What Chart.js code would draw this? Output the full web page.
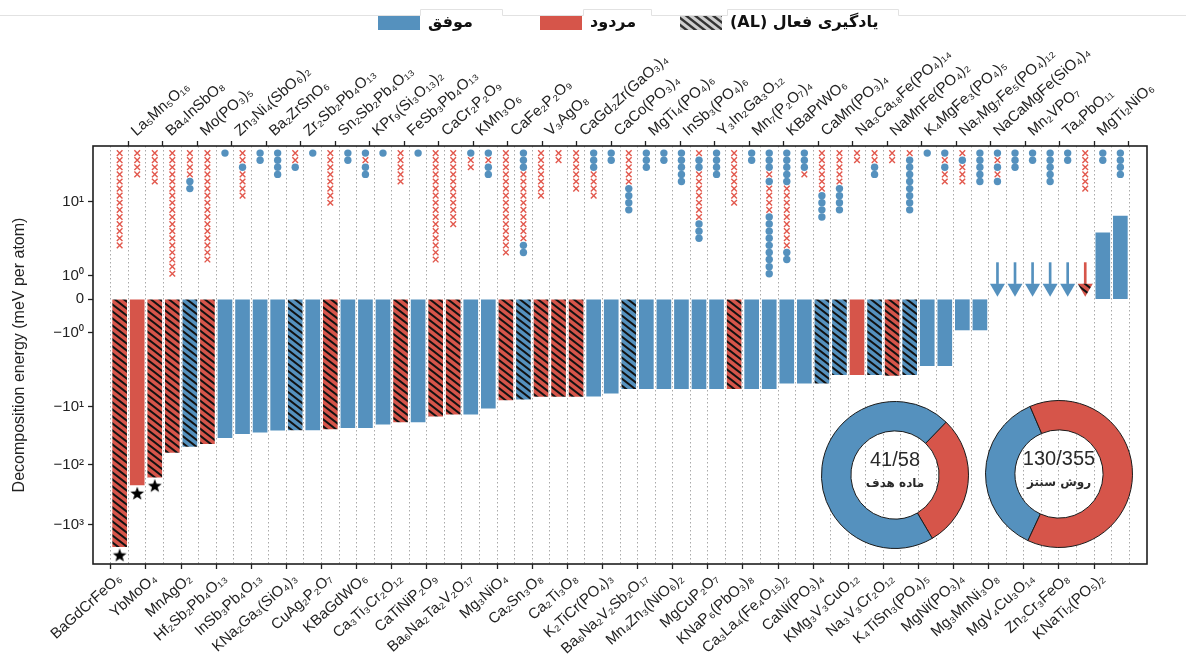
<!DOCTYPE html>
<html><head><meta charset="utf-8">
<script src="https://cdn.jsdelivr.net/npm/chart.js@4.4.1/dist/chart.umd.min.js"></script>
<style>
html,body{margin:0;padding:0;background:#fff;}
#wrap{position:relative;width:1186px;height:666px;overflow:hidden;background:#fff;}
#main{position:absolute;left:0;top:0;}
.donut{position:absolute;}
</style></head><body>
<div id="wrap">
<canvas id="main" width="1186" height="666"></canvas>
<canvas id="d1" class="donut" width="150" height="150" style="left:820px;top:400px"></canvas>
<canvas id="d2" class="donut" width="150" height="150" style="left:984px;top:399px"></canvas>
</div>
<script>
// ---------------- DATA ----------------
const targets = [
 'BaGdCrFeO₆','La₅Mn₅O₁₆','YbMoO₄','Ba₄InSbO₈','MnAgO₂','Mo(PO₃)₅',
 'Hf₂Sb₂Pb₄O₁₃','Zn₃Ni₄(SbO₆)₂','InSb₃Pb₄O₁₃','Ba₂ZrSnO₆','KNa₂Ga₃(SiO₄)₃','Zr₂Sb₂Pb₄O₁₃',
 'CuAg₂P₂O₇','Sn₂Sb₂Pb₄O₁₃','KBaGdWO₆','KPr₉(Si₃O₁₃)₂','Ca₃Ti₃Cr₂O₁₂','FeSb₃Pb₄O₁₃',
 'CaTiNiP₂O₉','CaCr₂P₂O₉','Ba₆Na₂Ta₂V₂O₁₇','KMn₃O₆','Mg₃NiO₄','CaFe₂P₂O₉',
 'Ca₂Sn₃O₈','V₃AgO₈','Ca₂Ti₃O₈','CaGd₂Zr(GaO₃)₄','K₂TiCr(PO₄)₃','CaCo(PO₃)₄',
 'Ba₆Na₂V₂Sb₂O₁₇','MgTi₄(PO₄)₆','Mn₄Zn₃(NiO₆)₂','InSb₃(PO₄)₆','MgCuP₂O₇','Y₃In₂Ga₃O₁₂',
 'KNaP₆(PbO₃)₈','Mn₇(P₂O₇)₄','Ca₃La₄(Fe₄O₁₅)₂','KBaPrWO₆','CaNi(PO₃)₄','CaMn(PO₃)₄',
 'KMg₃V₃CuO₁₂','Na₃Ca₁₈Fe(PO₄)₁₄','Na₃V₃Cr₂O₁₂','NaMnFe(PO₄)₂','K₄TiSn₃(PO₄)₅','K₄MgFe₃(PO₄)₅',
 'MgNi(PO₃)₄','Na₇Mg₇Fe₅(PO₄)₁₂','Mg₃MnNi₃O₈','NaCaMgFe(SiO₄)₄','MgV₄Cu₃O₁₄','Mn₂VPO₇',
 'Zn₂Cr₃FeO₈','Ta₄PbO₁₁','KNaTi₂(PO₅)₂','MgTi₂NiO₆'
];
// decomposition energy (meV per atom); null = drawn as arrow (on hull)
const decompEnergy = [
 -2300,-215,-160,-61,-48,-43,
 -34,-29,-27.5,-25.4,-25,-25,
 -24,-23,-23,-20,-18.3,-18.3,
 -14.6,-13.5,-13.5,-10.6,-8.1,-7.9,
 -7.3,-7.3,-7.3,-7.2,-6.6,-5.7,
 -5.7,-5.7,-5.7,-5.7,-5.7,-5.7,
 -5.7,-5.7,-4.8,-4.8,-4.8,-3.7,
 -3.7,-3.7,-3.8,-3.7,-2.8,-2.8,
 -0.92,-0.92,null,null,null,null,
 null,null,3.8,6.4
];
// 1 = target obtained, 0 = failed
const obtained = [
 0,0,0,0,1,0, 1,1,1,1,1,1, 0,1,1,1,0,1, 0,0,1,1,0,1, 0,0,0,1,1,1,
 1,1,1,1,1,0, 1,1,1,1,1,1, 0,1,0,1,1,1, 1,1,1,1,1,1, 1,0,1,1
];
// 1 = optimized by active learning (hatched)
const activeLearning = [
 1,0,1,1,1,1, 0,0,0,0,1,0, 1,0,0,0,1,0, 1,1,0,0,1,1, 1,1,1,0,0,1,
 0,0,0,0,0,1, 0,0,0,0,1,1, 0,1,1,1,0,0, 0,0,0,0,0,0, 0,1,0,0
];
const arrowCols = [50,51,52,53,54,55];
const arrowShaft = [0.67, 1.51];
const arrowHeadValue = 0.48;
const starredCols = [0,1,2];
// synthesis recipes per target: o = success, x = failure (top to bottom)
const recipes = [
 'xxxxxxxxxxxxxx','xxxx','xxxxx','xxxxxxxxxxxxxxxxxx','xxxxoo','xxxxxxxxxxxxxxxx',
 'o','xxoxxxx','oo','oooo','xxo','o',
 'xxxxxxxx','oo','oxoo','o','xxxxx','o',
 'xxxxxxxxxxxxxxxx','xxxxxxxxxxx','oxx','oxoo','xxxxxxxxxxxxxxx','oooxxxxxxxxxxoo',
 'xxxxxxx','xx','xxxxxx','oooxxxx','oo','xxxxxoooo',
 'ooo','oo','ooooo','xooxxxxxxxooo','oooo','xxxxxxxx',
 'oo','oooxoxxxxooooooooo','oooooxxxxxxxxxoo','ooox','xxxxxxoooo','xxxxxoooo',
 'xx','xxoo','xx','xoooooooo','o','oxoxx',
 'xoxxx','ooooo','oxoxo','ooo','oo','ooooo',
 'oo','xxxxxx','oo','oooo'
];
const yTickValues = [-1000,-100,-10,-1,0,1,10];
const yTickLabels = ['−10³','−10²','−10¹','−10⁰','0','10⁰','10¹'];
const targetCounts = [17, 41];   // failed, obtained
const recipeCounts = [130, 225]; // successful, failed
const legendLabels = ['موفق','مردود','یادگیری فعال (AL)'];
const donutTexts = [['41/58','ماده هدف'],['130/355','روش سنتز']];

// ---------------- STYLE ----------------
const BLUE = '#5591be', RED = '#d6554a', XRED = '#e2584d';
const FONT = "'Liberation Sans', 'Noto Sans', Arial, sans-serif";
Chart.defaults.font.family = FONT;

function hatch(bg, line, w, h, lw) {
  const c = document.createElement('canvas'); c.width = w; c.height = h;
  const g = c.getContext('2d');
  g.fillStyle = bg; g.fillRect(0, 0, w, h);
  g.strokeStyle = line; g.lineWidth = lw;
  for (let k = -1; k <= 1; k++) { g.beginPath(); g.moveTo(-w, -h + k*h); g.lineTo(2*w, 2*h + k*h); g.stroke(); }
  return g.createPattern(c, 'repeat');
}
const HATCH_BLUE = hatch(BLUE, '#111', 9, 7, 2);
const HATCH_RED = hatch(RED, '#111', 9, 7, 2);
const HATCH_LEG = hatch('#cfcfcf', '#333', 9, 7, 2.4);

function starImage() {
  const c = document.createElement('canvas'); c.width = 18; c.height = 36;
  const g = c.getContext('2d'); g.fillStyle = '#000';
  const cx = 9, cy = 27, R = 7.2, r = 3;
  g.beginPath();
  for (let i = 0; i < 10; i++) { const a = -Math.PI/2 + i*Math.PI/5; const rr = i % 2 ? r : R; g.lineTo(cx + rr*Math.cos(a), cy + rr*Math.sin(a)); }
  g.closePath(); g.fill();
  return c;
}

// ---------------- custom symmetric-log style scale ----------------
const SEG = {p1: 23.3, pd: 74.3, n1: 33.4, nd: [74, 58.3, 60]};
function pieceT(v) {
  if (v >= 0) { return v <= 1 ? v*SEG.p1 : SEG.p1 + Math.log10(v)*SEG.pd; }
  const a = -v;
  if (a <= 1) return -a*SEG.n1;
  let L = Math.log10(a), acc = SEG.n1;
  for (let k = 0; k < 3; k++) {
    if (L <= 1 || k === 2) return -(acc + L*SEG.nd[k]);
    acc += SEG.nd[k]; L -= 1;
  }
}
function pieceInv(t) {
  if (t >= 0) return t <= SEG.p1 ? t/SEG.p1 : Math.pow(10, (t - SEG.p1)/SEG.pd);
  let a = -t;
  if (a <= SEG.n1) return -a/SEG.n1;
  a -= SEG.n1; let dec = 0;
  for (let k = 0; k < 3; k++) {
    if (a <= SEG.nd[k] || k === 2) return -Math.pow(10, dec + a/SEG.nd[k]);
    a -= SEG.nd[k]; dec += 1;
  }
}
class PieceScale extends Chart.Scale {
  static id = 'piece';
  static defaults = {};
  determineDataLimits() { this.min = this.options.min; this.max = this.options.max; }
  buildTicks() { return (this.options.tickValues || []).map(v => ({value: v})); }
  getLabelForValue(v) { return String(v); }
  configure() { super.configure(); this._t0 = pieceT(this.min); this._t1 = pieceT(this.max); }
  getPixelForValue(v) {
    if (v === null || v === undefined || isNaN(v)) return NaN;
    return this.getPixelForDecimal((pieceT(v) - this._t0)/(this._t1 - this._t0));
  }
  getValueForPixel(p) { return pieceInv(this._t0 + this.getDecimalForPixel(p)*(this._t1 - this._t0)); }
}
Chart.register(PieceScale);

// ---------------- derived datasets ----------------
const barPts = [], barColors = [];
decompEnergy.forEach((v, i) => {
  if (v === null) return;
  barPts.push({x: i, y: v});
  barColors.push(activeLearning[i] ? (obtained[i] ? HATCH_BLUE : HATCH_RED) : (obtained[i] ? BLUE : RED));
});
const shaftPts = arrowCols.map(i => ({x: i, y: arrowShaft}));
const shaftColors = arrowCols.map(i => obtained[i] ? BLUE : RED);
const headPts = arrowCols.map(i => ({x: i, y: arrowHeadValue}));
const headColors = arrowCols.map(i => activeLearning[i] ? (obtained[i] ? HATCH_BLUE : HATCH_RED) : (obtained[i] ? BLUE : RED));
const starPts = starredCols.map(i => ({x: i, y: decompEnergy[i]}));
const okPts = [], failPts = [];
recipes.forEach((s, col) => { [...s].forEach((ch, row) => (ch === 'o' ? okPts : failPts).push({x: col, y: row})); });

// ---------------- plugins ----------------
const framePlugin = { id: 'frame', afterDraw(chart) {
  const {ctx, chartArea: a} = chart; ctx.save();
  ctx.strokeStyle = '#1e1e1e'; ctx.lineWidth = 1.6;
  ctx.strokeRect(a.left, a.top, a.right - a.left, a.bottom - a.top); ctx.restore();
}};
const legendBoxX = [378, 540, 680];
const legendFrames = [[420, 502], [583, 651], [727, 898]];
const legendPlugin = { id: 'persianLegend', afterDraw(chart) {
  const ctx = chart.ctx; ctx.save();
  ctx.strokeStyle = '#e2e2e2'; ctx.lineWidth = 1;
  ctx.beginPath(); ctx.moveTo(0, 15.5);
  legendFrames.forEach(([l, r]) => { ctx.lineTo(l + .5, 15.5); ctx.lineTo(l + .5, 9.5); ctx.lineTo(r + .5, 9.5); ctx.lineTo(r + .5, 15.5); });
  ctx.lineTo(1186, 15.5); ctx.stroke();
  const fills = [BLUE, RED, HATCH_LEG];
  legendLabels.forEach((t, i) => {
    const x = legendBoxX[i];
    ctx.fillStyle = fills[i]; ctx.fillRect(x, 16, 42, 14);
    ctx.fillStyle = '#111'; ctx.font = "bold 16px 'DejaVu Sans'";
    ctx.direction = 'rtl'; ctx.textAlign = 'left'; ctx.textBaseline = 'middle';
    ctx.fillText(t, x + 50, 23);
  });
  ctx.restore();
}};

// ---------------- main chart ----------------
new Chart(document.getElementById('main'), {
  type: 'bar',
  data: { datasets: [
    { type: 'scatter', data: okPts, xAxisID: 'x', yAxisID: 'yr', pointStyle: 'circle', radius: 3.7, backgroundColor: BLUE, borderWidth: 0 },
    { type: 'scatter', data: failPts, xAxisID: 'x', yAxisID: 'yr', pointStyle: 'crossRot', radius: 4, borderColor: XRED, borderWidth: 1.4, backgroundColor: XRED },
    { type: 'scatter', data: starPts, xAxisID: 'x', yAxisID: 'y', pointStyle: starImage(), radius: 9 },
    { type: 'scatter', data: headPts, xAxisID: 'x', yAxisID: 'y', pointStyle: 'triangle', rotation: 180, radius: 8.7, backgroundColor: headColors, borderWidth: 0 },
    { type: 'bar', data: shaftPts, xAxisID: 'x', yAxisID: 'y', backgroundColor: shaftColors, barThickness: 2, grouped: false, borderWidth: 0 },
    { type: 'bar', data: barPts, xAxisID: 'x', yAxisID: 'y', backgroundColor: barColors, barThickness: 14, grouped: false, borderWidth: 0 }
  ]},
  options: {
    responsive: false, animation: false, devicePixelRatio: 1,
    layout: { padding: { left: 0, right: 39, top: 0, bottom: 0 } },
    plugins: { legend: { display: false }, tooltip: { enabled: false } },
    scales: {
      x: { type: 'linear', position: 'bottom', min: -1, max: 58, bounds: 'data',
        afterBuildTicks: s => { s.ticks = targets.map((_, i) => ({value: i})); },
        ticks: { autoSkip: false, maxRotation: 42, minRotation: 42, padding: 1, color: '#222', font: {size: 15, family: FONT},
          callback: v => (v % 2 === 0 ? targets[v] : '') },
        grid: { drawOnChartArea: true, color: '#a9a9a9', lineWidth: 1, tickLength: 5, tickWidth: 1.3, tickBorderDash: [],
          tickColor: c => (c.tick && c.tick.value % 2 === 0 ? '#222' : 'rgba(0,0,0,0)') },
        border: { display: false, dash: [1.5, 2.5] },
        afterFit: s => { s.height = 102; } },
      x2: { type: 'linear', position: 'top', min: -1, max: 58, bounds: 'data',
        afterBuildTicks: s => { s.ticks = targets.map((_, i) => ({value: i})).filter(t => t.value % 2 === 1); },
        ticks: { autoSkip: false, maxRotation: 42, minRotation: 42, padding: 1, color: '#222', font: {size: 15, family: FONT},
          callback: v => targets[v] },
        grid: { drawOnChartArea: false, tickLength: 5, tickWidth: 1.3, tickColor: '#222', color: '#222' },
        border: { display: false },
        afterFit: s => { s.height = 146; } },
      y: { type: 'piece', position: 'left', min: -4470, max: 56, tickValues: yTickValues,
        ticks: { color: '#222', padding: 4, font: {size: 15, family: FONT},
          callback: v => yTickLabels[yTickValues.indexOf(v)] },
        grid: { drawOnChartArea: false, tickLength: 5, tickWidth: 1.3, tickColor: '#222', color: '#222' },
        border: { display: false },
        title: { display: true, text: 'Decomposition energy (meV per atom)', color: '#222', font: {size: 16, family: FONT}, padding: {top: 10, bottom: 0} },
        afterFit: s => { s.width = 93; } },
      yr: { type: 'linear', display: false, reverse: true, min: -1, max: 57.9 }
    }
  },
  plugins: [framePlugin, legendPlugin]
});

// ---------------- donuts ----------------
function centerLabel(num, word) {
  return { id: 'center', afterDraw(ch) {
    const {ctx, chartArea: a} = ch; const cx = (a.left + a.right)/2, cy = (a.top + a.bottom)/2;
    ctx.save(); ctx.fillStyle = '#2a2a2a'; ctx.textAlign = 'center'; ctx.textBaseline = 'middle';
    ctx.font = "20px 'Liberation Sans', Arial"; ctx.fillText(num, cx, cy - 15);
    ctx.font = "bold 12px 'DejaVu Sans'"; ctx.direction = 'rtl'; ctx.fillText(word, cx, cy + 9);
    ctx.restore();
  }};
}
function donut(id, counts, colors, rotation, texts) {
  new Chart(document.getElementById(id), {
    type: 'doughnut',
    data: { labels: ['a', 'b'], datasets: [{ data: counts, backgroundColor: colors, borderColor: '#1a1a1a', borderWidth: 1 }] },
    options: { responsive: false, animation: false, devicePixelRatio: 1, rotation: rotation, cutout: '60%',
      layout: { padding: 1 }, plugins: { legend: { display: false }, tooltip: { enabled: false } } },
    plugins: [centerLabel(texts[0], texts[1])]
  });
}
donut('d1', targetCounts, [RED, BLUE], 44, donutTexts[0]);
donut('d2', recipeCounts, [BLUE, RED], 205, donutTexts[1]);
</script>
</body></html>
